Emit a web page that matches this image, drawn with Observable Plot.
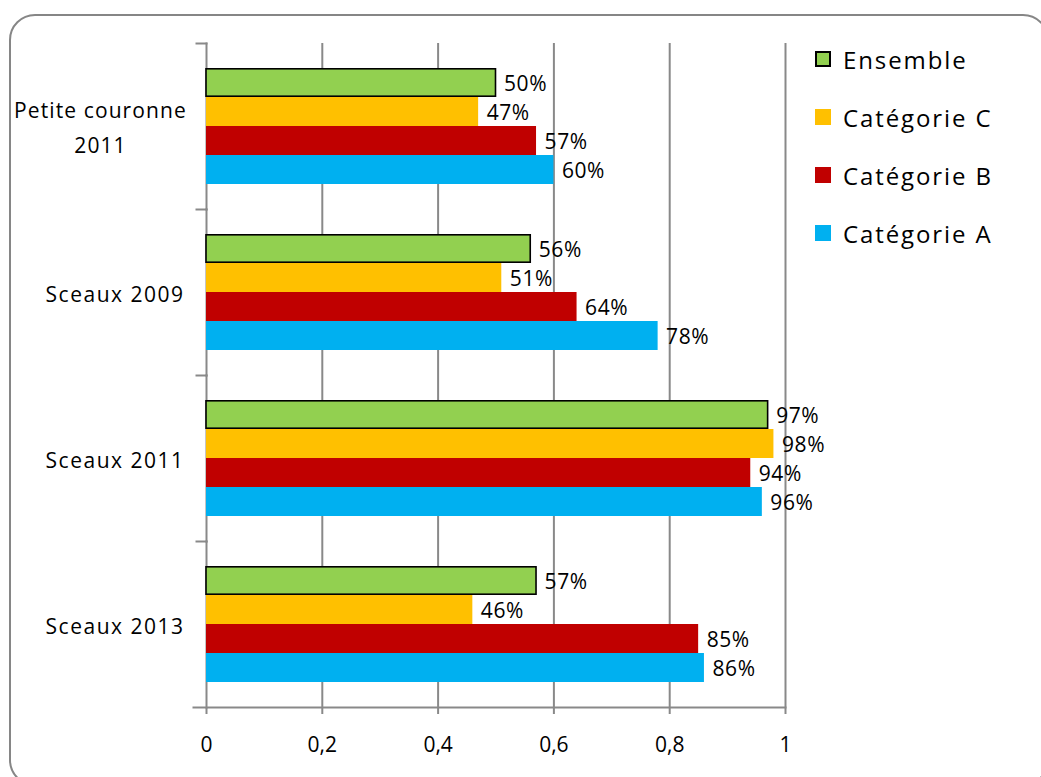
<!DOCTYPE html>
<html lang="fr">
<head>
<meta charset="utf-8">
<script src="https://cdn.jsdelivr.net/npm/d3@7"></script>
<script src="https://cdn.jsdelivr.net/npm/@observablehq/plot@0.6"></script>
<style>
  html, body { margin: 0; padding: 0; background: #fff; }
  body { width: 1041px; height: 777px; overflow: hidden; position: relative; font-family: "Open Sans", sans-serif; }
  #panel {
    position: absolute; left: 9px; top: 14px; width: 1040px; height: 772px;
    box-sizing: border-box; border: 2.5px solid #868686; border-radius: 26px;
  }
  #chart { position: absolute; left: 0; top: 0; }
  #legend { position: absolute; left: 815px; top: 30px; }
  .item { display: flex; align-items: center; height: 58px; font-size: 24px; letter-spacing: 1.9px; color: #000; }
  .swatch { width: 16px; height: 16px; box-sizing: border-box; margin-right: 12px; }
</style>
</head>
<body>
<div id="panel"></div>
<div id="chart"></div>
<div id="legend"></div>
<script>
// Groups shown on the vertical axis, top to bottom
const categories = ["Petite couronne 2011", "Sceaux 2009", "Sceaux 2011", "Sceaux 2013"];
const categoryLabels = ["Petite couronne\n2011", "Sceaux 2009", "Sceaux 2011", "Sceaux 2013"];

// Series, in the order the bars are stacked inside each group
const series = ["Ensemble", "Catégorie C", "Catégorie B", "Catégorie A"];
const seriesColors = ["#92d050", "#ffc000", "#c00000", "#00b0f0"];

// Shares per group (same order as categories)
const ensemble   = [0.50, 0.56, 0.97, 0.57];
const categorieC = [0.47, 0.51, 0.98, 0.46];
const categorieB = [0.57, 0.64, 0.94, 0.85];
const categorieA = [0.60, 0.78, 0.96, 0.86];

const xTicks = [0, 0.2, 0.4, 0.6, 0.8, 1];

const valuesBySeries = [ensemble, categorieC, categorieB, categorieA];
const rows = categories.flatMap((category, i) =>
  series.map((s, j) => ({ category, series: s, value: valuesBySeries[j][i] }))
);

const groupLabels = categories.map((category, i) => ({ category, label: categoryLabels[i] }));
const wrapped = groupLabels.filter(d => d.label.includes("\n"));
const singleLine = groupLabels.filter(d => !d.label.includes("\n"));

const gray = "#898989";
const textFont = "Open Sans";

const chart = Plot.plot({
  width: 1041,
  height: 777,
  marginLeft: 206,
  marginRight: 256,
  marginTop: 43,
  marginBottom: 70,
  style: { fontFamily: textFont, background: "transparent", overflow: "visible" },
  x: { domain: [0, 1] },
  y: { domain: series, axis: null, paddingInner: 0, paddingOuter: 0.767 },
  fy: { domain: categories, axis: null, padding: 0 },
  color: { domain: series, range: seriesColors },
  marks: [
    // vertical gridlines
    Plot.ruleX(xTicks.filter(t => t > 0), { stroke: gray, strokeWidth: 2 }),
    // category axis line and its boundary ticks
    Plot.frame({ anchor: "left", stroke: gray, strokeWidth: 2 }),
    Plot.frame({ anchor: "top", stroke: gray, strokeWidth: 2, insetLeft: -10, insetRight: 579 }),
    // bars
    Plot.barX(rows.filter(d => d.series !== "Ensemble"), {
      fy: "category", y: "series", x: "value", fill: "series"
    }),
    Plot.barX(rows.filter(d => d.series === "Ensemble"), {
      fy: "category", y: "series", x: "value", fill: "series",
      stroke: "#000", strokeWidth: 1.6, insetTop: 0.8, insetBottom: 0.8
    }),
    // value labels
    Plot.text(rows, {
      fy: "category", y: "series", x: "value",
      text: d => `${Math.round(d.value * 100)}%`,
      textAnchor: "start", dx: 8, dy: 1, fontSize: 21, fill: "#000"
    }),
    // group labels: wrapped ones are centred, single lines sit right-aligned
    Plot.text(wrapped, {
      fy: "category", frameAnchor: "left", dx: -106, dy: -2,
      text: "label", textAnchor: "middle", fontSize: 21, lineHeight: 1.67, fill: "#000"
    }),
    Plot.text(singleLine, {
      fy: "category", frameAnchor: "left", dx: -22, dy: 3,
      text: "label", textAnchor: "end", fontSize: 21, fill: "#000"
    }),
    // value axis
    Plot.frame({ anchor: "bottom", facetAnchor: "bottom", stroke: gray, strokeWidth: 2, insetLeft: -13 }),
    Plot.axisX({
      ticks: xTicks, tickSize: 7, tickPadding: 23, label: null,
      tickFormat: d => String(d).replace(".", ","),
      stroke: gray, strokeWidth: 2, fill: "#000", fontSize: 21
    })
  ]
});

// a little extra tracking on the labels: the first text layer holds the
// value labels, the next two the group labels
const textLayers = chart.querySelectorAll('g[aria-label="text"]');
const tracking = ["0.6px", "1.1px", "1.5px"];
textLayers.forEach((g, k) => {
  if (k < tracking.length) g.style.letterSpacing = tracking[k];
});

document.getElementById("chart").appendChild(chart);

// Legend
const legend = document.getElementById("legend");
series.forEach((s, j) => {
  const item = document.createElement("div");
  item.className = "item";
  const sw = document.createElement("span");
  sw.className = "swatch";
  sw.style.background = seriesColors[j];
  if (s === "Ensemble") sw.style.border = "2px solid #000";
  const label = document.createElement("span");
  label.textContent = s;
  item.append(sw, label);
  legend.appendChild(item);
});
</script>
</body>
</html>
